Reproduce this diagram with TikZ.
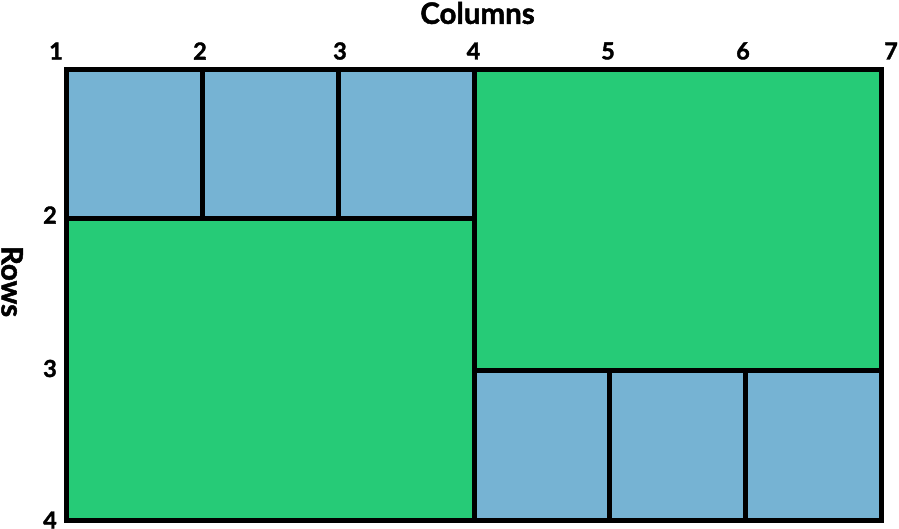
\documentclass[tikz,border=0pt]{standalone}
\usepackage{fontspec}
\setmainfont{Lato}[BoldFeatures={FakeBold=1.6}]
\definecolor{cellblue}{RGB}{118,179,211}
\definecolor{cellgreen}{RGB}{38,203,119}
\begin{document}
\begin{tikzpicture}[x=1pt,y=-1pt,
  gridline/.style={line width=5pt,draw=black},
  lbl/.style={font=\bfseries\fontsize{23.5}{23.5}\selectfont,inner sep=0pt,anchor=center},
  ttl/.style={font=\bfseries\fontsize{29.5}{29.5}\selectfont,inner sep=0pt,anchor=center}]
\useasboundingbox (0,0) rectangle (899,529);
% cells
\foreach \a/\b in {66.5/202,202/338,338/474}
  \fill[cellblue] (\a,69.5) rectangle (\b,219);
\foreach \a/\b in {474/609,609/745,745/881.5}
  \fill[cellblue] (\a,370.5) rectangle (\b,520);
\fill[cellgreen] (474,69.5) rectangle (881.5,370.5);
\fill[cellgreen] (66.5,219) rectangle (474,520);
% lines
\draw[gridline] (66.5,69.5) rectangle (881.5,520);
\draw[gridline] (474,69.5) -- (474,520);
\draw[gridline] (66.5,219) -- (474,219);
\draw[gridline] (474,370.5) -- (881.5,370.5);
\draw[gridline] (202,69.5) -- (202,219);
\draw[gridline] (338,69.5) -- (338,219);
\draw[gridline] (609,370.5) -- (609,520);
\draw[gridline] (745,370.5) -- (745,520);
% labels
\node[ttl] (colt) at (477.5,13) {Columns};
\node[ttl,rotate=-90,anchor=base] (rowt) at (1.5,281.5) {Rows};
\node[lbl] (c1) at (56,51) {1};
\node[lbl] (c2) at (200,51) {2};
\node[lbl] (c3) at (340,51) {3};
\node[lbl] (c4) at (473.5,51) {4};
\node[lbl] (c5) at (608,51) {5};
\node[lbl] (c6) at (743,51) {6};
\node[lbl] (c7) at (891,51) {7};
\node[lbl] (r2) at (50,215) {2};
\node[lbl] (r3) at (50,368.5) {3};
\node[lbl] (r4) at (50,520) {4};
\end{tikzpicture}
\end{document}
